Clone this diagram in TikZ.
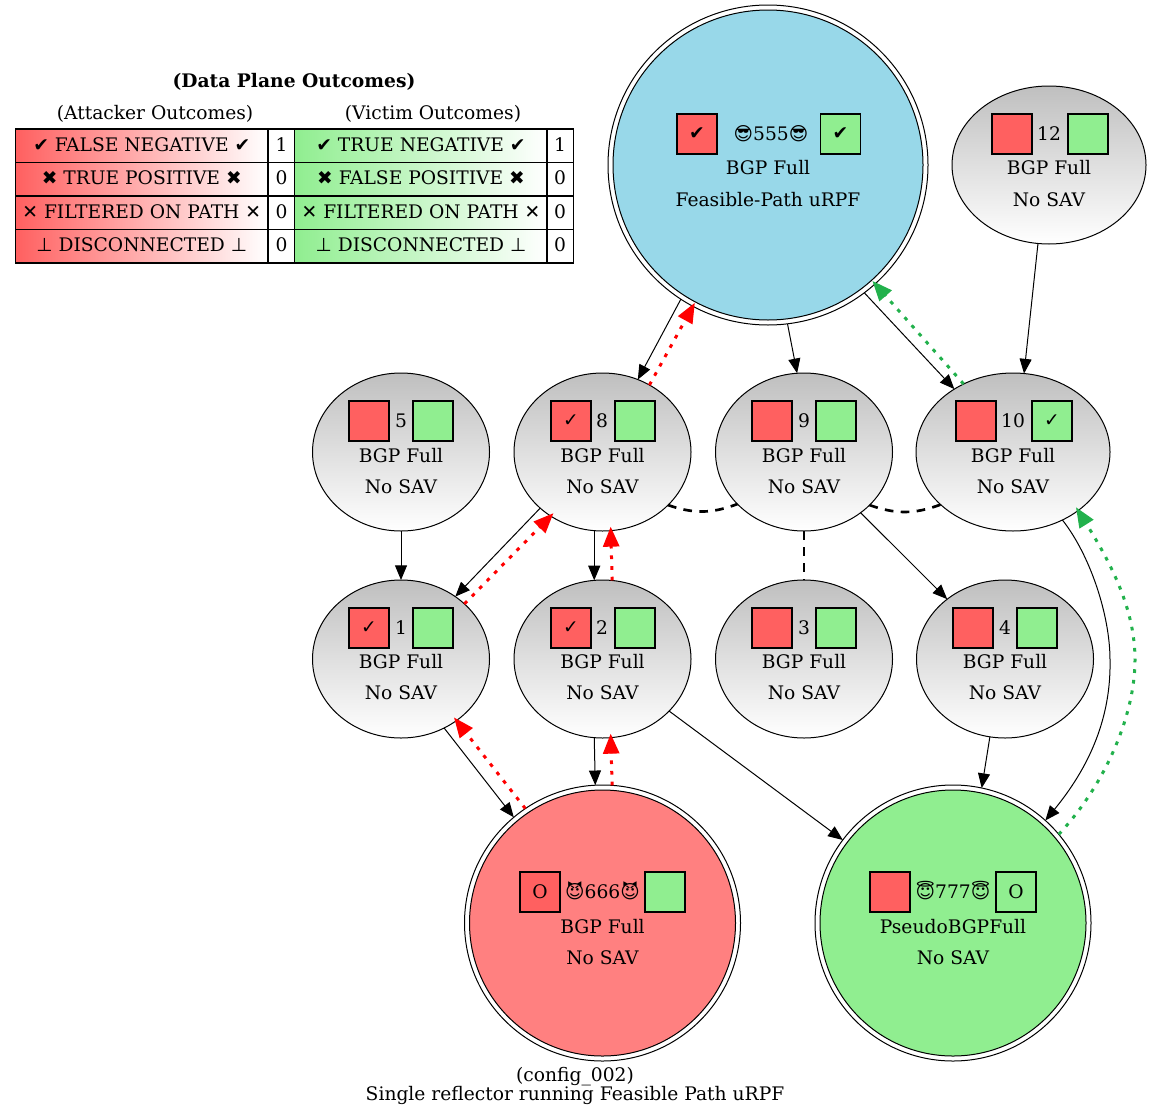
\documentclass[tikz,border=0pt]{standalone}
\usepackage{fontspec}
\setmainfont{DejaVu Serif}
\newfontfamily\symfont{DejaVu Sans}
\usetikzlibrary{arrows.meta}
\usetikzlibrary{shapes.geometric}
\definecolor{boxred}{HTML}{FF6060}
\definecolor{boxgreen}{HTML}{90EE90}
\definecolor{hubblue}{HTML}{98D8E9}
\definecolor{hubred}{HTML}{FF8080}
\definecolor{edgegreen}{HTML}{22B14C}
\newcommand{\heavycheck}{{\symfont ✔}}
\newcommand{\heavycross}{{\symfont ✖}}
\newcommand{\thincross}{{\symfont ✕}}
\newcommand{\thincheck}{{\symfont ✓}}
\newcommand{\upt}{{\symfont ⊥}}
\tikzset{
  router/.style={ellipse,draw,line width=0.75pt,inner sep=0pt,outer sep=0pt,minimum width=132.75pt,minimum height=118.5pt,top color=gray!50,bottom color=white},
  widerouter/.style={router,minimum width=145.5pt},
  hubring/.style={circle,draw,line width=0.75pt,inner sep=0pt,outer sep=0pt,fill=white},
  adbox/.style={rectangle,draw,line width=0.85pt,inner sep=0pt,outer sep=0pt,minimum size=30pt},
  redbox/.style={adbox,fill=boxred},
  greenbox/.style={adbox,fill=boxgreen},
  txt/.style={inner sep=0pt,outer sep=0pt,text height=11pt,text depth=1pt},
  cell/.style={rectangle,draw,line width=0.9pt,inner sep=0pt,outer sep=0pt,minimum height=25.1pt,text height=10pt,text depth=1.5pt},
  namecell/.style={cell,minimum width=189.4pt},
  countcell/.style={cell,minimum width=20pt},
  redcell/.style={namecell,left color=boxred,right color=white},
  greencell/.style={namecell,left color=boxgreen,right color=white},
  link/.style={-{Triangle[length=11pt,width=9pt]},line width=0.75pt},
  peer/.style={line width=2pt,dash pattern=on 6.5pt off 5.5pt},
  flow/.style={-{Triangle[length=15pt,width=12pt]},line width=2.25pt,dash pattern=on 2.8pt off 5.2pt,shorten >=-3pt},
  redflow/.style={flow,red},
  greenflow/.style={flow,edgegreen},
}
\begin{document}
\begin{tikzpicture}[x=0.75pt,y=-0.75pt,font=\fontsize{14}{16}\selectfont]
\useasboundingbox (0,0) rectangle (1152,1117);
% legend
\node [txt,font=\fontsize{14}{16}\selectfont\bfseries] (title) at (294,81) {(Data Plane Outcomes)};
\node [txt] (attacker) at (155,113) {(Attacker Outcomes)};
\node [txt] (victim) at (433,113) {(Victim Outcomes)};
\node [redcell] (a1) at (141.75,145.75) {\heavycheck{} FALSE NEGATIVE \heavycheck};
\node [redcell] (a2) at (141.75,179.25) {\heavycross{} TRUE POSITIVE \heavycross};
\node [redcell] (a3) at (141.75,212.75) {\thincross{} FILTERED ON PATH \thincross};
\node [redcell] (a4) at (141.75,246.25) {\upt{} DISCONNECTED \upt};
\node [countcell] (ac1) at (281.5,145.75) {1};
\node [countcell] (ac2) at (281.5,179.25) {0};
\node [countcell] (ac3) at (281.5,212.75) {0};
\node [countcell] (ac4) at (281.5,246.25) {0};
\node [greencell] (v1) at (421,145.75) {\heavycheck{} TRUE NEGATIVE \heavycheck};
\node [greencell] (v2) at (421,179.25) {\heavycross{} FALSE POSITIVE \heavycross};
\node [greencell] (v3) at (421,212.75) {\thincross{} FILTERED ON PATH \thincross};
\node [greencell] (v4) at (421,246.25) {\upt{} DISCONNECTED \upt};
\node [countcell] (vc1) at (560,145.75) {1};
\node [countcell] (vc2) at (560,179.25) {0};
\node [countcell] (vc3) at (560,212.75) {0};
\node [countcell] (vc4) at (560,246.25) {0};
% hubs
\node [hubring,minimum size=240pt] (n555) at (768,165) {};
\node [hubring,minimum size=232.5pt,fill=hubblue] (i555) at (768,165) {};
\node [redbox] (r555) at (697,134) {\heavycheck};
\node [txt] (t555) at (771,134) {{\symfont 😎}555{\symfont 😎}};
\node [greenbox] (g555) at (840.5,134) {\heavycheck};
\node [txt] (b555) at (768,168) {BGP Full};
\node [txt] (s555) at (768,200) {Feasible-Path uRPF};
\node [hubring,minimum size=207pt] (n666) at (602.5,923) {};
\node [hubring,minimum size=199.5pt,fill=hubred] (i666) at (602.5,923) {};
\node [redbox] (r666) at (540,892) {O};
\node [txt] (t666) at (602.5,892) {{\symfont 😈}666{\symfont 😈}};
\node [greenbox] (g666) at (665,892) {};
\node [txt] (b666) at (602.5,927) {BGP Full};
\node [txt] (s666) at (602.5,958) {No SAV};
\node [hubring,minimum size=207pt] (n777) at (953,923) {};
\node [hubring,minimum size=199.5pt,fill=boxgreen] (i777) at (953,923) {};
\node [redbox] (r777) at (890,892) {};
\node [txt] (t777) at (953,892) {{\symfont 😇}777{\symfont 😇}};
\node [greenbox] (g777) at (1016,892) {O};
\node [txt] (b777) at (953,927) {PseudoBGPFull};
\node [txt] (s777) at (953,958) {No SAV};
% routers
\node [widerouter] (n12) at (1049,165) {};
\node [redbox] (r12) at (1012,134) {};
\node [txt] (t12) at (1049,134) {12};
\node [greenbox] (g12) at (1088,134) {};
\node [txt] (b12) at (1049,168) {BGP Full};
\node [txt] (s12) at (1049,200) {No SAV};
\node [router] (n5) at (401,452) {};
\node [redbox] (r5) at (369,421) {};
\node [txt] (t5) at (401,421) {5};
\node [greenbox] (g5) at (433,421) {};
\node [txt] (b5) at (401,456) {BGP Full};
\node [txt] (s5) at (401,487) {No SAV};
\node [router] (n8) at (602.5,452) {};
\node [redbox] (r8) at (571,421) {\thincheck};
\node [txt] (t8) at (602,421) {8};
\node [greenbox] (g8) at (635,421) {};
\node [txt] (b8) at (602.5,456) {BGP Full};
\node [txt] (s8) at (602.5,487) {No SAV};
\node [router] (n9) at (804,452) {};
\node [redbox] (r9) at (772,421) {};
\node [txt] (t9) at (804,421) {9};
\node [greenbox] (g9) at (836,421) {};
\node [txt] (b9) at (804,456) {BGP Full};
\node [txt] (s9) at (804,487) {No SAV};
\node [widerouter] (n10) at (1013,452) {};
\node [redbox] (r10) at (976,421) {};
\node [txt] (t10) at (1013,421) {10};
\node [greenbox] (g10) at (1052,421) {\thincheck};
\node [txt] (b10) at (1013,456) {BGP Full};
\node [txt] (s10) at (1013,487) {No SAV};
\node [router] (n1) at (401,659) {};
\node [redbox] (r1) at (369,628) {\thincheck};
\node [txt] (t1) at (401,628) {1};
\node [greenbox] (g1) at (433,628) {};
\node [txt] (b1) at (401,662) {BGP Full};
\node [txt] (s1) at (401,693) {No SAV};
\node [router] (n2) at (602.5,659) {};
\node [redbox] (r2) at (571,628) {\thincheck};
\node [txt] (t2) at (602,628) {2};
\node [greenbox] (g2) at (635,628) {};
\node [txt] (b2) at (602.5,662) {BGP Full};
\node [txt] (s2) at (602.5,693) {No SAV};
\node [router] (n3) at (804,659) {};
\node [redbox] (r3) at (772,628) {};
\node [txt] (t3) at (804,628) {3};
\node [greenbox] (g3) at (836,628) {};
\node [txt] (b3) at (804,662) {BGP Full};
\node [txt] (s3) at (804,693) {No SAV};
\node [router] (n4) at (1005,659) {};
\node [redbox] (r4) at (973,628) {};
\node [txt] (t4) at (1005,628) {4};
\node [greenbox] (g4) at (1037,628) {};
\node [txt] (b4) at (1005,662) {BGP Full};
\node [txt] (s4) at (1005,693) {No SAV};
% caption
\node [txt] (cap1) at (575,1075) {(config\_002)};
\node [txt] (cap2) at (575,1094) {Single reflector running Feasible Path uRPF};
% black edges
\draw [link] (n555.237.2) -- (n8.64.7);
\draw [link] (n555.277.2) -- (n9.95.9);
\draw [link] (n555.307.9) -- (n10.133.6);
\draw [link] (n12.262.8) -- (n10.82.1);
\draw [link] (n5.south) -- (n1.north);
\draw [link] (n8.222.9) -- (n1.49.4);
\draw [link] (n8.264.4) -- (n2.96.1);
\draw [link] (n9.313.6) -- (n4.134);
\draw [link] (n1.302.9) -- (n666.130.1);
\draw [link] (n2.264.6) -- (n666.93.6);
\draw [link] (n2.322.1) -- (n777.143);
\draw [link] (n4.259.1) -- (n777.78.5);
\coordinate (bulge) at (1110,660);
\draw [link] (n10.306.5) .. controls (1090,555) and (1110,615) .. (bulge) .. controls (1111,710) and (1095,760) .. (n777.48.2);
% peers
\draw [peer] (n8.321.5) to [bend right=20] (n9.218.8);
\draw [peer] (n9.321.7) to [bend right=20] (n10.216.4);
\draw [peer] (n9.south) -- (n3.north);
% traffic
\draw [redflow] (n8.55.4) -- (n555.242.4);
\draw [redflow] (n1.41.7) -- (n8.231);
\draw [redflow] (n2.83.9) -- (n8.276.1);
\draw [redflow] (n666.124.3) -- (n1.312.9);
\draw [redflow] (n666.86.4) -- (n2.276.1);
\draw [greenflow] (n10.126.3) -- (n555.312.9);
\coordinate (gbulge) at (1135,660);
\draw [greenflow] (n777.40.6) .. controls (1105,785) and (1135,715) .. (gbulge) .. controls (1135,610) and (1112,565) .. (n10.318.4);
\end{tikzpicture}
\end{document}
